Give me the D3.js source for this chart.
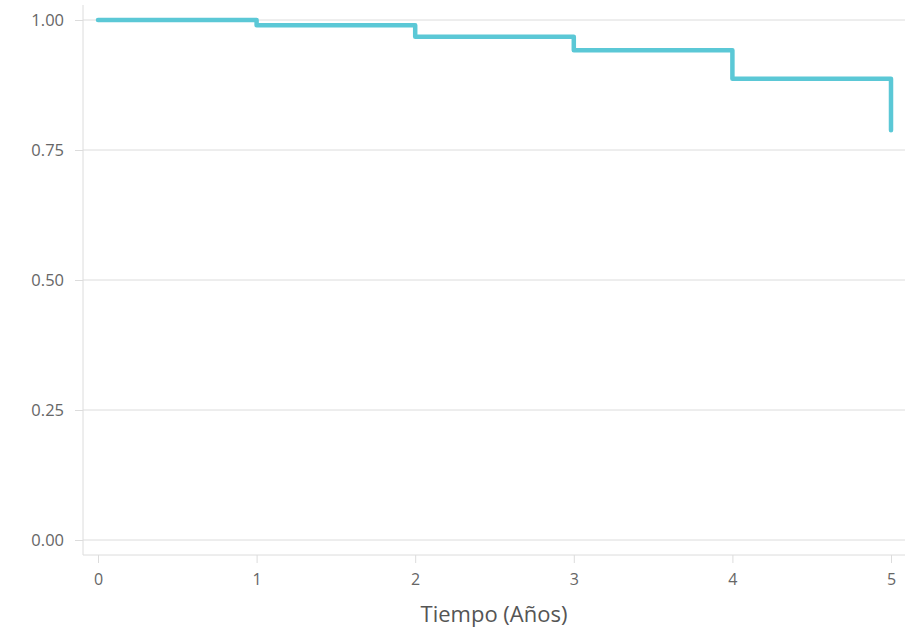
<!DOCTYPE html>
<html><head><meta charset="utf-8">
<script src="https://cdn.jsdelivr.net/npm/d3@7"></script>
<style>
body{margin:0;background:#fff;}
text{font-family:"Open Sans",Lato,sans-serif;}
</style></head>
<body><svg id="c" width="914" height="628"></svg>
<script>
const times = [0, 1, 2, 3, 4, 5];
const survival = [1.00, 0.990, 0.968, 0.942, 0.887, 0.788];
const yTicks = [0, 0.25, 0.5, 0.75, 1.0];
const xTicks = [0, 1, 2, 3, 4, 5];
const xLabel = "Tiempo (Años)";

(function () {
const svg = d3.select("#c");
const x = d3.scaleLinear().domain([0, 5]).range([98, 891]);
const y = d3.scaleLinear().domain([0, 1]).range([540, 20]);
const mLeft = 83, mRight = 905, mBottom = 555, mTop = 5;
const font = '"Open Sans",sans-serif';

// gridlines
svg.append("g").selectAll("line").data(yTicks).join("line")
  .attr("x1", mLeft).attr("x2", mRight)
  .attr("y1", d => y(d)).attr("y2", d => y(d))
  .attr("stroke", "#dcdcdc").attr("stroke-width", 1);

// y axis
const yAxis = svg.append("g").attr("transform", `translate(${mLeft},0)`)
  .call(d3.axisLeft(y).tickValues(yTicks).tickFormat(d3.format(".2f")).tickSize(8).tickPadding(11));
yAxis.select(".domain").attr("d", `M0,${mTop}V${mBottom}`).attr("stroke", "#dcdcdc");
yAxis.selectAll(".tick line").attr("stroke", "#dcdcdc");
yAxis.selectAll(".tick text").attr("fill", "#666").attr("font-size", 16.5)
  .style("font-family", font);

// x axis
const xAxis = svg.append("g").attr("transform", `translate(0,${mBottom})`)
  .call(d3.axisBottom(x).tickValues(xTicks).tickFormat(d3.format("d")).tickSize(8).tickPadding(11));
xAxis.select(".domain").attr("d", `M${mLeft},0H${mRight}`).attr("stroke", "#dcdcdc");
xAxis.selectAll(".tick line").attr("stroke", "#dcdcdc");
xAxis.selectAll(".tick text").attr("fill", "#666").attr("font-size", 16)
  .style("font-family", font);

svg.append("text").attr("x", 494).attr("y", 622).attr("text-anchor", "middle")
  .attr("fill", "#555").attr("font-size", 22).style("font-family", font).text(xLabel);

const pts = times.map((t, i) => [t, survival[i]]);
svg.append("path").datum(pts)
  .attr("d", d3.line().x(d => x(d[0])).y(d => y(d[1])).curve(d3.curveStepAfter))
  .attr("fill", "none").attr("stroke", "#5bc8d6").attr("stroke-width", 4.5)
  .attr("stroke-linecap", "round").attr("stroke-linejoin", "round");
})();
</script></body></html>
